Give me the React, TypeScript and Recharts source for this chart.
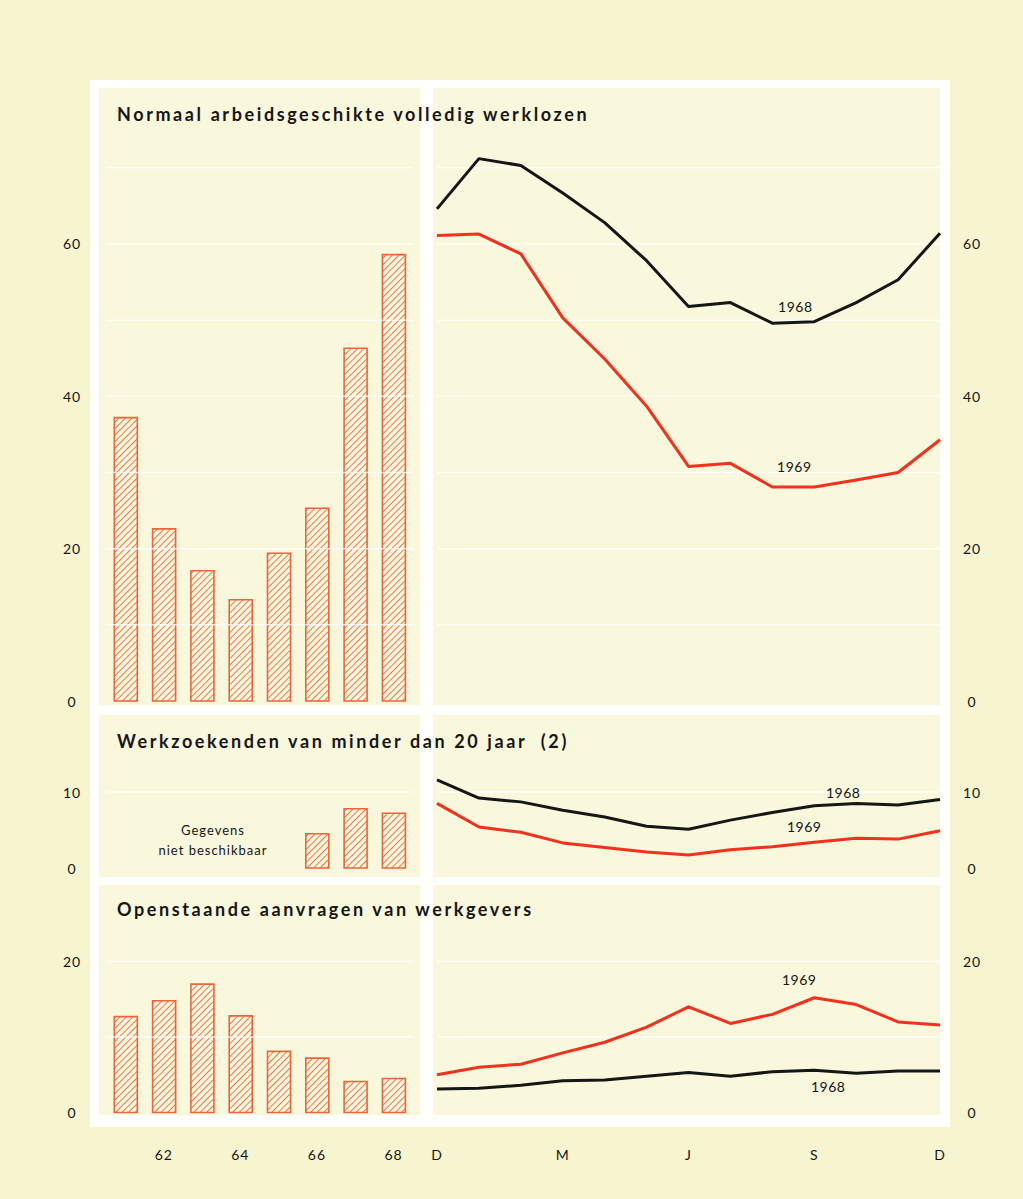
import React from "react";
import { BarChart, Bar, LineChart, Line, XAxis, YAxis, ReferenceLine, LabelList } from "recharts";

// yearly averages (x 1000), 1961-1968
const years = ["61", "62", "63", "64", "65", "66", "67", "68"];
const unemployedByYear = [37.2, 22.6, 17.1, 13.3, 19.4, 25.3, 46.3, 58.6];
const youthByYear = [null, null, null, null, null, 4.5, 7.8, 7.2];
const vacanciesByYear = [12.7, 14.8, 17.0, 12.8, 8.1, 7.2, 4.1, 4.5];

// monthly, December to December
const months = ["D", "J", "F", "M", "A", "M", "J", "J", "A", "S", "O", "N", "D"];
const unemployed1968 = [64.6, 71.2, 70.3, 66.7, 62.8, 57.8, 51.8, 52.3, 49.6, 49.8, 52.3, 55.3, 61.4];
const unemployed1969 = [61.1, 61.3, 58.7, 50.3, 44.9, 38.7, 30.8, 31.2, 28.1, 28.1, 29.0, 30.0, 34.3];
const youth1968 = [11.6, 9.2, 8.7, 7.6, 6.7, 5.5, 5.1, 6.3, 7.3, 8.2, 8.5, 8.3, 9.0];
const youth1969 = [8.5, 5.4, 4.7, 3.3, 2.7, 2.1, 1.7, 2.4, 2.8, 3.4, 3.9, 3.8, 4.9];
const vacancies1968 = [3.1, 3.2, 3.6, 4.2, 4.3, 4.8, 5.3, 4.8, 5.4, 5.6, 5.2, 5.5, 5.5];
const vacancies1969 = [5.0, 6.0, 6.4, 7.9, 9.3, 11.3, 14.0, 11.8, 13.0, 15.2, 14.3, 12.0, 11.6];

const yearTickLabels = ["62", "64", "66", "68"];
const monthTicks = [0, 3, 6, 9, 12];

const PAGE = "#f7f4d0";
const PANEL = "#f9f7dc";
const FRAME = "#fefefa";
const BAR = "#f0643c";
const RED = "#f5301c";
const INK = "#161616";
const FONT = "Lato, 'DejaVu Sans', sans-serif";

const LEFT_X = 40;
const LEFT_W = 390;
const RIGHT_X = 420;
const RIGHT_W = 573;
const RIGHT_PAD = 17; // plot starts at x = 437

const rows = [
  {
    title: "Normaal arbeidsgeschikte volledig werklozen",
    titleY: 104,
    top: 80, height: 640, mt: 11.6, mb: 19, max: 80,
    grid: [10, 20, 30, 40, 50, 60, 70], labels: [0, 20, 40, 60],
    bars: unemployedByYear, s68: unemployed1968, s69: unemployed1969,
    lab68: { i: 8, dx: 23, dy: -17 }, lab69: { i: 8, dx: 22, dy: -20 },
    axis: false,
  },
  {
    title: "Werkzoekenden van minder dan 20 jaar\u00a0\u00a0(2)",
    titleY: 731,
    top: 705, height: 175, mt: 11, mb: 12, max: 20,
    grid: [10], labels: [0, 10],
    bars: youthByYear, s68: youth1968, s69: youth1969,
    lab68: { i: 10, dx: -13, dy: -11 }, lab69: { i: 9, dx: -10, dy: -16 },
    axis: false,
  },
  {
    title: "Openstaande aanvragen van werkgevers",
    titleY: 899,
    top: 875, height: 300, mt: 11, mb: 0, max: 30,
    grid: [10, 20], labels: [0, 20],
    bars: vacanciesByYear, s68: vacancies1968, s69: vacancies1969,
    lab68: { i: 9, dx: 14, dy: 16 }, lab69: { i: 9, dx: -15, dy: -18 },
    axis: true,
  },
];

const tickText = (x: number, y: number, s: string) => (
  <text x={x} y={y} textAnchor="middle" dominantBaseline="central" fill={INK}
    style={{ fontFamily: FONT, fontSize: 14, letterSpacing: 1 }}>{s}</text>
);

const yTick = (fixedX: number, shown: number[]) => (p: any) =>
  shown.includes(p.payload.value) ? tickText(fixedX, p.y, String(p.payload.value)) : <g />;

const seriesLabel = (text: string, at: { i: number; dx: number; dy: number }) => (p: any) =>
  p.index === at.i ? (
    <text x={p.x + at.dx} y={p.y + at.dy} textAnchor="middle" dominantBaseline="central" fill={INK}
      style={{ fontFamily: FONT, fontSize: 14, letterSpacing: 0.5 }}>{text}</text>
  ) : null;

function Row({ r }: { r: (typeof rows)[number] }) {
  const barData = years.map((y, i) => ({ year: y, v: r.bars[i] }));
  const lineData = months.map((m, i) => ({ i, m, a: r.s68[i], b: r.s69[i] }));
  const axisH = r.axis ? 62.5 : 0;
  return (
    <>
      <div style={{ position: "absolute", left: LEFT_X, top: r.top }}>
        <BarChart width={LEFT_W} height={r.height} data={barData}
          margin={{ top: r.mt, right: 17.3, bottom: r.mb, left: 0 }}>
          <XAxis dataKey="year" hide={!r.axis} height={axisH} axisLine={false} tickLine={false}
            tickSize={0} tickMargin={0} interval={0}
            tick={(p: any) => yearTickLabels.includes(p.payload.value) ? tickText(p.x, p.y + 41.5, p.payload.value) : <g />} />
          <YAxis domain={[0, r.max]} ticks={[...r.labels]} width={66.3} axisLine={false} tickLine={false}
            tick={yTick(72 - LEFT_X, r.labels)} />
          {r.grid.map((g) => (
            <ReferenceLine key={g} y={g} stroke="#ffffff" strokeOpacity={0.75} strokeWidth={1.5} />
          ))}
          <Bar dataKey="v" barSize={23} fill="url(#hatch)" stroke={BAR} strokeWidth={1.6} isAnimationActive={false} />
        </BarChart>
      </div>
      <div style={{ position: "absolute", left: RIGHT_X, top: r.top }}>
        <LineChart width={RIGHT_W} height={r.height} data={lineData}
          margin={{ top: r.mt, right: 0, bottom: r.mb, left: RIGHT_PAD }}>
          <XAxis dataKey="i" type="number" domain={[0, 12]} ticks={monthTicks} hide={!r.axis} height={axisH}
            axisLine={false} tickLine={false} tickSize={0} tickMargin={0} interval={0}
            tick={(p: any) => tickText(p.x, p.y + 41.5, months[p.payload.value])} />
          <YAxis orientation="right" domain={[0, r.max]} ticks={[...r.labels]} width={53} axisLine={false}
            tickLine={false} tick={yTick(972 - RIGHT_X, r.labels)} />
          {r.grid.map((g) => (
            <ReferenceLine key={g} y={g} stroke="#ffffff" strokeOpacity={0.75} strokeWidth={1.5} />
          ))}
          <Line type="linear" dataKey="a" stroke={INK} strokeWidth={3} dot={false} strokeLinejoin="round"
            isAnimationActive={false}>
            <LabelList dataKey="a" content={seriesLabel("1968", r.lab68)} />
          </Line>
          <Line type="linear" dataKey="b" stroke={RED} strokeWidth={3} dot={false} strokeLinejoin="round"
            isAnimationActive={false}>
            <LabelList dataKey="b" content={seriesLabel("1969", r.lab69)} />
          </Line>
        </LineChart>
      </div>
    </>
  );
}

export default function App() {
  const panel = (left: number, top: number, width: number, height: number) => (
    <div style={{ position: "absolute", left, top, width, height, background: PANEL }} />
  );
  return (
    <div style={{ position: "absolute", left: 0, top: 0, width: 1023, height: 1199, background: PAGE, overflow: "hidden", fontFamily: FONT }}>
      <svg width={0} height={0} style={{ position: "absolute" }}>
        <defs>
          <pattern id="hatch" patternUnits="userSpaceOnUse" width={4.6} height={4.6} patternTransform="rotate(45)">
            <rect width={4.6} height={4.6} fill={PANEL} />
            <line x1={0} y1={0} x2={0} y2={4.6} stroke={BAR} strokeWidth={1.7} />
          </pattern>
        </defs>
      </svg>

      {/* white frame with cream panels */}
      <div style={{ position: "absolute", left: 90, top: 80, width: 860, height: 1047, background: FRAME }} />
      {panel(99, 88, 321, 617)}
      {panel(433, 88, 507, 617)}
      {panel(99, 715, 321, 162)}
      {panel(433, 715, 507, 162)}
      {panel(99, 885, 321, 230)}
      {panel(433, 885, 507, 230)}

      {rows.map((r, i) => <Row key={i} r={r} />)}

      {rows.map((r, i) => (
        <div key={i} style={{ position: "absolute", left: 117, top: r.titleY - 1, fontSize: 18, fontWeight: 700, letterSpacing: 2.6, color: INK, whiteSpace: "nowrap" }}>
          {r.title}
        </div>
      ))}

      <div style={{ position: "absolute", left: 133, top: 820, width: 160, textAlign: "center", fontSize: 13, lineHeight: "20px", letterSpacing: 1, color: INK }}>
        Gegevens<br />niet beschikbaar
      </div>
    </div>
  );
}
